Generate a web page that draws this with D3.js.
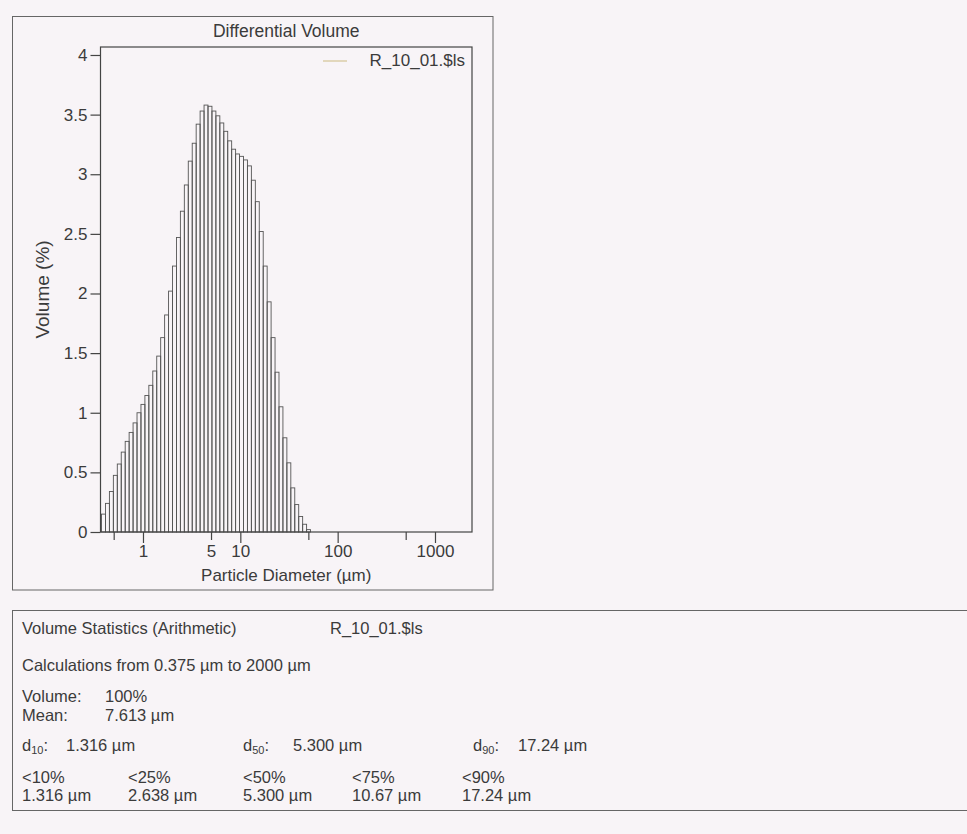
<!DOCTYPE html>
<html><head><meta charset="utf-8">
<script src="https://cdn.jsdelivr.net/npm/d3@7"></script>
<style>
html,body{margin:0;padding:0;background:#f8f4f7;}
svg{display:block;font-family:"Liberation Sans",Arial,sans-serif;}
</style>
</head><body>
<svg id="c" width="967" height="834"></svg>
<script>
// Channel edges (µm), 0.375 .. 52.64 (channels with data)
const channelEdges = [0.375,0.4117,0.4519,0.4961,0.5446,0.5979,0.6564,0.7206,0.7910,0.8683,
  0.9531,1.0463,1.1486,1.2609,1.3842,1.5196,1.6681,1.8312,2.0103,2.2069,
  2.4227,2.6596,2.9196,3.2051,3.5185,3.8625,4.2402,4.6548,5.1099,5.6096,
  6.1581,6.7602,7.4212,8.1468,8.9434,9.8181,10.778,11.832,12.989,14.259,
  15.653,17.184,18.864,20.709,22.734,24.957,27.397,30.076,33.017,36.246,
  39.790,43.681,47.953,52.642];
// Differential volume (%) per channel
const volumePct = [0.15,0.24,0.34,0.475,0.57,0.67,0.76,0.835,0.915,1.0,
  1.07,1.145,1.23,1.35,1.475,1.63,1.82,2.02,2.23,2.47,
  2.69,2.91,3.11,3.26,3.42,3.53,3.58,3.57,3.53,3.49,
  3.43,3.36,3.28,3.21,3.17,3.15,3.12,3.07,2.95,2.77,
  2.52,2.23,1.93,1.63,1.34,1.05,0.79,0.58,0.37,0.23,
  0.13,0.065,0.02];
const yTicks = [0,0.5,1,1.5,2,2.5,3,3.5,4];
const xTicks = [0.5,1,5,10,50,100,500,1000];
const xTickLabels = ["","1","5","10","","100","","1000"];
const seriesName = "R_10_01.$ls";
const statsTitle = "Volume Statistics (Arithmetic)";
const calcRange = "Calculations from 0.375 µm to 2000 µm";
const volumeTotal = "100%";
const meanValue = "7.613 µm";
const dLabels = ["10","50","90"];
const dValues = ["1.316 µm","5.300 µm","17.24 µm"];
const pctLabels = ["<10%","<25%","<50%","<75%","<90%"];
const pctValues = ["1.316 µm","2.638 µm","5.300 µm","10.67 µm","17.24 µm"];

const svg = d3.select("#c");
const ink = "#3b3b3b";
svg.append("rect").attr("width",967).attr("height",834).attr("fill","#f8f4f7");

const L=100.5, R=472, T=47, B=532;
const x = d3.scaleLog().domain([0.366,2400]).range([L,R]);
const y = d3.scaleLinear().domain([0,4.067]).range([B,T]);

// outer chart box
svg.append("rect").attr("x",12.5).attr("y",16.5).attr("width",480.5).attr("height",573.5)
  .attr("fill","none").attr("stroke","#666").attr("stroke-width",1);

// title
svg.append("text").attr("x",(L+R)/2).attr("y",37).attr("text-anchor","middle")
  .attr("font-size",17.5).attr("fill",ink).text("Differential Volume");

// bars
const bars = volumePct.map((v,i)=>({x0:channelEdges[i],x1:channelEdges[i+1],v}));
svg.append("g").selectAll("rect").data(bars).join("rect")
  .attr("x",d=>x(d.x0)).attr("width",d=>x(d.x1)-x(d.x0))
  .attr("y",d=>y(d.v)).attr("height",d=>y(0)-y(d.v))
  .attr("fill","none").attr("stroke","#555").attr("stroke-width",0.9);

// plot frame
svg.append("rect").attr("x",L).attr("y",T).attr("width",R-L).attr("height",B-T)
  .attr("fill","none").attr("stroke","#444").attr("stroke-width",1.2);

// y axis
const yAxis = d3.axisLeft(y).tickValues(yTicks).tickSize(10).tickPadding(3)
  .tickFormat(d=>String(d));
const gy = svg.append("g").attr("transform",`translate(${L},0)`).call(yAxis);
gy.select(".domain").remove();
gy.selectAll("line").attr("stroke","#444").attr("stroke-width",1.2);
gy.selectAll("text").attr("font-size",17).attr("fill",ink).attr("font-family","Liberation Sans, Arial, sans-serif");

// x axis
const gx = svg.append("g").attr("transform",`translate(0,${B})`);
const xAxis = d3.axisBottom(x).tickValues(xTicks).tickSize(0)
  .tickFormat((d,i)=>xTickLabels[i]).tickPadding(13);
gx.call(xAxis);
gx.select(".domain").remove();
gx.selectAll(".tick line").attr("y2",(d,i)=>xTickLabels[i]&&d!==5?11:8)
  .attr("stroke","#444").attr("stroke-width",1.2);
gx.selectAll("text").attr("font-size",17).attr("fill",ink).attr("font-family","Liberation Sans, Arial, sans-serif");

svg.append("text").attr("x",(L+R)/2).attr("y",581).attr("text-anchor","middle")
  .attr("font-size",17).attr("fill",ink).text("Particle Diameter (µm)");

svg.append("text").attr("transform",`translate(49,${(T+B)/2}) rotate(-90)`)
  .attr("text-anchor","middle").attr("font-size",19).attr("fill",ink).text("Volume (%)");

// legend
svg.append("line").attr("x1",323).attr("x2",347).attr("y1",61).attr("y2",61)
  .attr("stroke","#d6c79c").attr("stroke-width",1.3);
svg.append("text").attr("x",465).attr("y",66).attr("text-anchor","end")
  .attr("font-size",17).attr("fill",ink).text(seriesName);

// stats box
svg.append("rect").attr("x",12.5).attr("y",610.5).attr("width",970).attr("height",200)
  .attr("fill","none").attr("stroke","#666").attr("stroke-width",1);
const fs = 16.5;
function t(xp,yp,str){return svg.append("text").attr("x",xp).attr("y",yp).attr("font-size",fs).attr("fill",ink).text(str);}
t(22,634,statsTitle);
t(330,634,seriesName);
t(22,671,calcRange);
t(22,702,"Volume:"); t(105,702,volumeTotal);
t(22,721,"Mean:");   t(105,721,meanValue);
const dX=[22,243,473], dVX=[66,293,518];
dLabels.forEach((s,i)=>{
  const tx = svg.append("text").attr("x",dX[i]).attr("y",751).attr("font-size",fs).attr("fill",ink);
  tx.append("tspan").text("d");
  tx.append("tspan").attr("font-size",11).attr("dy",3).text(s);
  tx.append("tspan").attr("dy",-3).text(":");
  t(dVX[i],751,dValues[i]);
});
const pX=[22,128,243,352,462];
pctLabels.forEach((s,i)=>{ t(pX[i],783,s); t(pX[i],801,pctValues[i]); });
</script>
</body></html>
